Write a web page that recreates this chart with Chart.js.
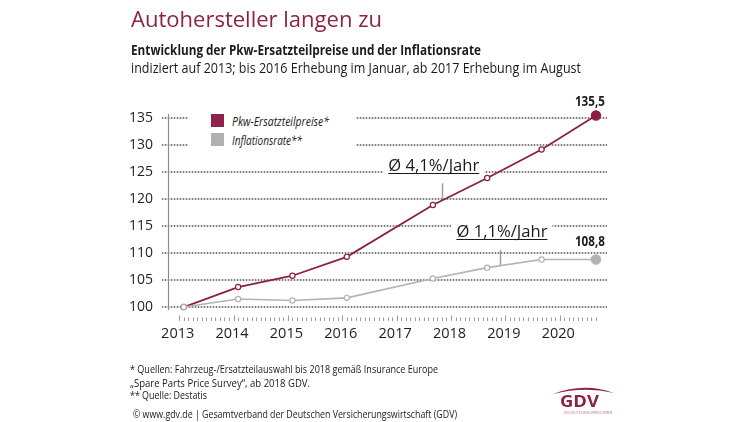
<!DOCTYPE html>
<html><head><meta charset="utf-8">
<script src="https://cdn.jsdelivr.net/npm/chart.js@4/dist/chart.umd.min.js"></script>
<style>
html,body{margin:0;padding:0;background:#fff;}
#wrap{position:relative;width:750px;height:422px;overflow:hidden;font-family:'Open Sans',sans-serif;color:#1a1a1a;}
#c{position:absolute;left:0;top:0;}
.t{position:absolute;white-space:nowrap;line-height:1;transform-origin:0 0;display:inline-block;}
#legend{position:absolute;left:188px;top:109px;width:168px;height:42px;background:#fff;}
.sw{position:absolute;width:13px;height:13px;}
</style></head>
<body><div id="wrap">
<canvas id="c" width="750" height="422"></canvas>
<div class="t fit" data-w="251" style="left:131px;top:9px;font-size:21px;color:#8b2346;">Autohersteller langen zu</div>
<div class="t fit" data-w="350" style="left:131px;top:44px;font-size:13.5px;font-weight:700;">Entwicklung der Pkw-Ersatzteilpreise und der Inflationsrate</div>
<div class="t fit" data-w="450" style="left:131px;top:61px;font-size:14px;">indiziert auf 2013; bis 2016 Erhebung im Januar, ab 2017 Erhebung im August</div>
<div id="legend"></div>
<div class="t fit" data-w="308" style="left:130px;top:364px;font-size:10.5px;">* Quellen: Fahrzeug-/Ersatzteilauswahl bis 2018 gemäß Insurance Europe</div>
<div class="t fit" data-w="180" style="left:130px;top:377.5px;font-size:10.5px;">„Spare Parts Price Survey“, ab 2018 GDV.</div>
<div class="t fit" data-w="77" style="left:130px;top:389.5px;font-size:10.5px;">** Quelle: Destatis</div>
<div class="t fit" data-w="324" style="left:133px;top:408px;font-size:11px;">© www.gdv.de | Gesamtverband der Deutschen Versicherungswirtschaft (GDV)</div>
<svg style="position:absolute;left:550px;top:381px" width="70" height="20"><path d="M3,13 Q34,1 64,12 Q34,5 3,13 Z" fill="#8b2346"/></svg>
<div class="t fit" data-w="39" style="left:560px;top:393px;font-size:16px;font-weight:700;color:#8b2346;">GDV</div>
<div class="t fit" data-w="48" style="left:564px;top:411px;font-size:4px;color:#b56b85;">DIE DEUTSCHEN VERSICHERER</div>
</div>
<script>
// ---- data ----
const years = [2013, 2014, 2015, 2016, 2017, 2018, 2019, 2020];
const surveyMonths = [1, 1, 1, 1, 8, 8, 8, 8];
const pkwValues = [100, 103.7, 105.8, 109.3, 118.9, 123.9, 129.2, 135.5];
const inflationValues = [100, 101.5, 101.2, 101.7, 105.3, 107.3, 108.8, 108.8];
const seriesLabels = ['Pkw-Ersatzteilpreise*', 'Inflationsrate**'];
const yTickValues = [100, 105, 110, 115, 120, 125, 130, 135];
const xTickValues = [2013, 2014, 2015, 2016, 2017, 2018, 2019, 2020];
const endLabels = ['135,5', '108,8'];
const trendLabels = ['Ø 4,1%/Jahr', 'Ø 1,1%/Jahr'];

const MAROON = '#8b1f47', GRAY = '#b3b3b3';
const xs = years.map((y, i) => y + surveyMonths[i] / 12);
const toPts = vals => vals.map((v, i) => ({x: xs[i], y: v}));

// legend (HTML)
const legendColors = [ '#8e2449', '#b0b0b0' ];
const lg = document.getElementById('legend');
seriesLabels.forEach((lab, i) => {
  const sw = document.createElement('div');
  sw.className = 'sw';
  sw.style.left = '23px'; sw.style.top = (5 + i * 19.3) + 'px';
  sw.style.background = legendColors[i];
  lg.appendChild(sw);
  const tx = document.createElement('div');
  tx.className = 't fit';
  tx.dataset.w = i === 0 ? '97' : '70';
  tx.style.left = '44px'; tx.style.top = (5.8 + i * 18.7) + 'px';
  tx.style.fontSize = '13px'; tx.style.fontStyle = 'italic';
  tx.textContent = lab;
  lg.appendChild(tx);
});

function fitAll() {
  document.querySelectorAll('.fit').forEach(el => {
    el.style.transform = 'none';
    const w = el.getBoundingClientRect().width;
    const target = parseFloat(el.dataset.w);
    if (w > 0) el.style.transform = 'scaleX(' + (target / w) + ')';
  });
}
fitAll();
if (document.fonts && document.fonts.ready) document.fonts.ready.then(fitAll);

function drawFitText(ctx, text, cx, baseline, width) {
  const w = ctx.measureText(text).width;
  ctx.save();
  ctx.translate(cx, baseline);
  ctx.scale(width / w, 1);
  ctx.textAlign = 'center';
  ctx.textBaseline = 'alphabetic';
  ctx.fillText(text, 0, 0);
  ctx.restore();
}

function valueAt(data, xv) {
  for (let i = 0; i < data.length - 1; i++) {
    if (xv >= data[i].x && xv <= data[i + 1].x) {
      const t = (xv - data[i].x) / (data[i + 1].x - data[i].x);
      return data[i].y + t * (data[i + 1].y - data[i].y);
    }
  }
  return data[data.length - 1].y;
}

const decor = {
  id: 'decor',
  beforeDatasetsDraw(chart) {
    const ctx = chart.ctx, xS = chart.scales.x, yS = chart.scales.y, ca = chart.chartArea;
    ctx.save();
    const axisX = Math.round(ca.left);
    const right = Math.round(ca.right);
    // dotted horizontal grid lines (incl. short tick part left of the axis)
    yS.ticks.forEach(t => {
      const py = Math.round(yS.getPixelForValue(t.value));
      ctx.fillStyle = '#d8d8d8';
      ctx.fillRect(axisX - 6, py - 1, right - axisX + 6, 2);
      ctx.fillStyle = '#7c7c7c';
      for (let x = axisX - 6; x <= right; x += 3) {
        if (x === axisX) continue;
        ctx.fillRect(x, py - 1, 1, 2);
      }
    });
    // y axis line
    ctx.strokeStyle = '#8a8a8a'; ctx.lineWidth = 1.2;
    ctx.beginPath(); ctx.moveTo(axisX + 0.5, ca.top - 2); ctx.lineTo(axisX + 0.5, ca.bottom); ctx.stroke();
    // monthly ticks
    ctx.strokeStyle = '#9a9a9a'; ctx.lineWidth = 1;
    const first = xTickValues[0], lastX = xs[xs.length - 1];
    for (let m = 0; first + m / 12 <= lastX + 1e-6; m++) {
      const px = Math.round(xS.getPixelForValue(first + m / 12)) + 0.5;
      ctx.beginPath();
      ctx.moveTo(px, ca.bottom + (m % 12 === 0 ? 5.5 : 7.5));
      ctx.lineTo(px, ca.bottom + 11);
      ctx.stroke();
    }
    // trend annotations
    const ann = [
      {ds: 0, x: 2017.84, len: 17, gap: 12, dx: -8.5, w: 91},
      {ds: 1, x: 2018.9, len: 16, gap: 13, dx: 2, w: 91}
    ];
    ann.forEach((a, i) => {
      const data = chart.data.datasets[a.ds].data;
      const px = xS.getPixelForValue(a.x);
      const py = yS.getPixelForValue(valueAt(data, a.x));
      const top = py - a.len;
      const base = top - a.gap;
      const cx = px + a.dx;
      ctx.fillStyle = '#fff';
      ctx.fillRect(cx - a.w / 2 - 5, base - 14, a.w + 10, 18);
      ctx.strokeStyle = '#9a9a9a'; ctx.lineWidth = 1.4;
      ctx.beginPath(); ctx.moveTo(Math.round(px) + 0.5, top); ctx.lineTo(Math.round(px) + 0.5, py); ctx.stroke();
      ctx.fillStyle = '#1a1a1a';
      ctx.font = '16.5px "Open Sans"';
      drawFitText(ctx, trendLabels[i], cx, base, a.w);
      ctx.strokeStyle = '#1a1a1a'; ctx.lineWidth = 1;
      ctx.beginPath(); ctx.moveTo(cx - a.w / 2, Math.round(base + 2) + 0.5); ctx.lineTo(cx + a.w / 2, Math.round(base + 2) + 0.5); ctx.stroke();
    });
    ctx.restore();
  },
  afterDatasetsDraw(chart) {
    const ctx = chart.ctx;
    const offs = [9.6, 13.3];
    ctx.save();
    ctx.fillStyle = '#1a1a1a';
    ctx.font = 'bold 14px "Open Sans"';
    chart.data.datasets.forEach((ds, i) => {
      const meta = chart.getDatasetMeta(i);
      const p = meta.data[meta.data.length - 1];
      drawFitText(ctx, endLabels[i], p.x - 6, p.y - offs[i], 30);
    });
    ctx.restore();
  }
};

const lastIdx = xs.length - 1;
const ptRadius = c => c.dataIndex === lastIdx ? 4.6 : 2.6;
const ptBg = col => c => c.dataIndex === lastIdx ? col : '#fff';

new Chart(document.getElementById('c'), {
  type: 'line',
  data: {
    datasets: [
      {label: seriesLabels[0], data: toPts(pkwValues), borderColor: MAROON, borderWidth: 1.8,
       pointRadius: ptRadius, pointBackgroundColor: ptBg(MAROON), pointBorderColor: MAROON, pointBorderWidth: 1.2,
       tension: 0, clip: false, order: 1, fill: false},
      {label: seriesLabels[1], data: toPts(inflationValues), borderColor: GRAY, borderWidth: 1.6,
       pointRadius: ptRadius, pointBackgroundColor: ptBg(GRAY), pointBorderColor: GRAY, pointBorderWidth: 1.2,
       tension: 0, clip: false, order: 0, fill: false}
    ]
  },
  options: {
    responsive: false, animation: false, devicePixelRatio: 1,
    layout: {padding: {left: 0, right: 143, top: 116, bottom: 72}},
    plugins: {legend: {display: false}, tooltip: {enabled: false}, title: {display: false}},
    scales: {
      x: {
        type: 'linear', min: 2012.794, max: 2020.87,
        afterBuildTicks: s => { s.ticks = xTickValues.map(v => ({value: v})); },
        afterFit: s => { s.height = 40; },
        grid: {display: false, drawTicks: false},
        border: {display: false},
        ticks: {callback: v => String(v), font: {family: 'Open Sans', size: 14.5}, color: '#1f1f1f', padding: 15, labelOffset: -1.5, maxRotation: 0, autoSkip: false}
      },
      y: {
        min: 99.45, max: 135.4,
        afterBuildTicks: s => { s.ticks = yTickValues.map(v => ({value: v})); },
        afterFit: s => { s.width = 168; },
        grid: {display: false, drawTicks: true, tickLength: 6},
        border: {display: false},
        ticks: {callback: v => String(v), font: {family: 'Open Sans', size: 14}, color: '#1f1f1f', padding: 9}
      }
    }
  },
  plugins: [decor]
});
</script>
</body></html>
